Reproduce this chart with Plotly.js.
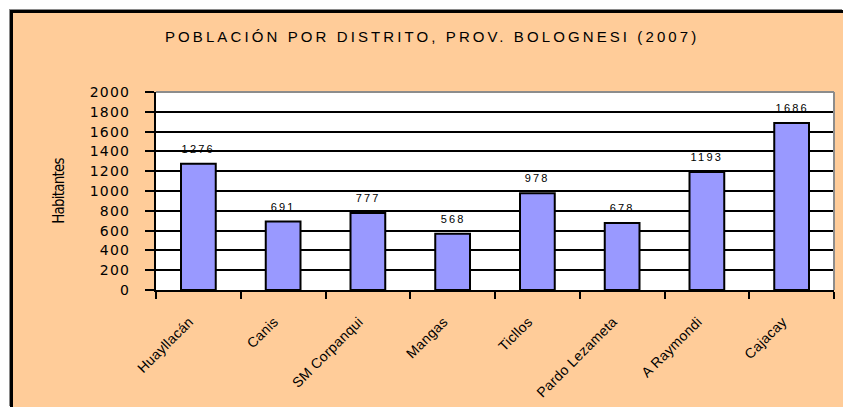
<!DOCTYPE html>
<html>
<head>
<meta charset="utf-8">
<script src="https://cdn.plot.ly/plotly-3.0.1.min.js"></script>
<style>
  html, body { margin: 0; padding: 0; background: #ffffff; width: 843px; height: 407px; overflow: hidden; }
  #chart {
    position: absolute; left: 10px; top: 10px;
    width: 830px; height: 394px;
    border-left: 3px solid #000; border-top: 3px solid #000;
    box-shadow: -1px -1px 0 #8a8a8a;
  }
  #chart .gtitle { letter-spacing: 3.1px; }
  #chart .ytick text { letter-spacing: 1.2px; }
  #chart .annotation-text { letter-spacing: 2.2px; }
  #chart .xtick text { letter-spacing: 0.3px; }
  #chart .ytitle { letter-spacing: -0.8px; }
</style>
</head>
<body>
<div id="chart"></div>
<script>
const districts = ["Huayllacán", "Canis", "SM Corpanqui", "Mangas", "Ticllos", "Pardo Lezameta", "A Raymondi", "Cajacay"];
const population = [1276, 691, 777, 568, 978, 678, 1193, 1686];
const yTickValues = [0, 200, 400, 600, 800, 1000, 1200, 1400, 1600, 1800, 2000];
const chartTitle = "POBLACIÓN POR DISTRITO, PROV. BOLOGNESI (2007)";
const yTitle = "Habitantes";

const trace = {
  type: "bar",
  x: districts,
  y: population,
  marker: { color: "#9999FF", line: { color: "#000000", width: 2 } },
  hoverinfo: "x+y"
};

const annotations = districts.map((d, i) => ({
  x: d, y: population[i], xref: "x", yref: "y",
  text: String(population[i]),
  showarrow: false, yanchor: "bottom", yshift: 7,
  font: { family: "Liberation Sans, Arial, sans-serif", size: 11, color: "#000" }
}));

const layout = {
  width: 830, height: 394,
  paper_bgcolor: "#FFCC99",
  plot_bgcolor: "#FFFFFF",
  margin: { l: 143, r: 9, t: 79, b: 117 },
  showlegend: false,
  bargap: 0.59,
  title: {
    text: chartTitle,
    x: 0.505, xref: "container", xanchor: "center",
    y: 0.94, yref: "container", yanchor: "middle",
    font: { family: "Liberation Sans, Arial, sans-serif", size: 15, color: "#000" }
  },
  xaxis: {
    type: "category",
    tickson: "boundaries",
    ticks: "outside", ticklen: 7, tickwidth: 2, tickcolor: "#000",
    showline: true, linecolor: "#000", linewidth: 2,
    showgrid: false,
    tickangle: -45,
    ticklabelstandoff: 16,
    ticklabelshift: -9,
    tickfont: { family: "Liberation Sans, Arial, sans-serif", size: 14, color: "#000" }
  },
  yaxis: {
    range: [0, 2000],
    tickvals: yTickValues,
    ticktext: yTickValues.map(String),
    ticks: "outside", ticklen: 9, tickwidth: 2, tickcolor: "#000",
    showline: true, linecolor: "#000", linewidth: 2,
    showgrid: true, gridcolor: "#000", gridwidth: 2,
    zeroline: false,
    ticklabelstandoff: 12,
    tickfont: { family: "DejaVu Sans, Verdana, sans-serif", size: 14, color: "#000" },
    title: {
      text: yTitle, standoff: 26,
      font: { family: "DejaVu Sans Condensed, Liberation Sans Narrow, Arial Narrow, sans-serif", size: 15, color: "#000" }
    }
  },
  shapes: [
    { type: "line", xref: "paper", yref: "paper", x0: 0, x1: 1, y0: 1, y1: 1, line: { color: "#8c8c8c", width: 2 }, layer: "above" },
    { type: "line", xref: "paper", yref: "paper", x0: 1, x1: 1, y0: 0, y1: 1, line: { color: "#8c8c8c", width: 2 }, layer: "above" }
  ],
  annotations: annotations
};

Plotly.newPlot("chart", [trace], layout, { displayModeBar: false, staticPlot: true });
</script>
</body>
</html>
